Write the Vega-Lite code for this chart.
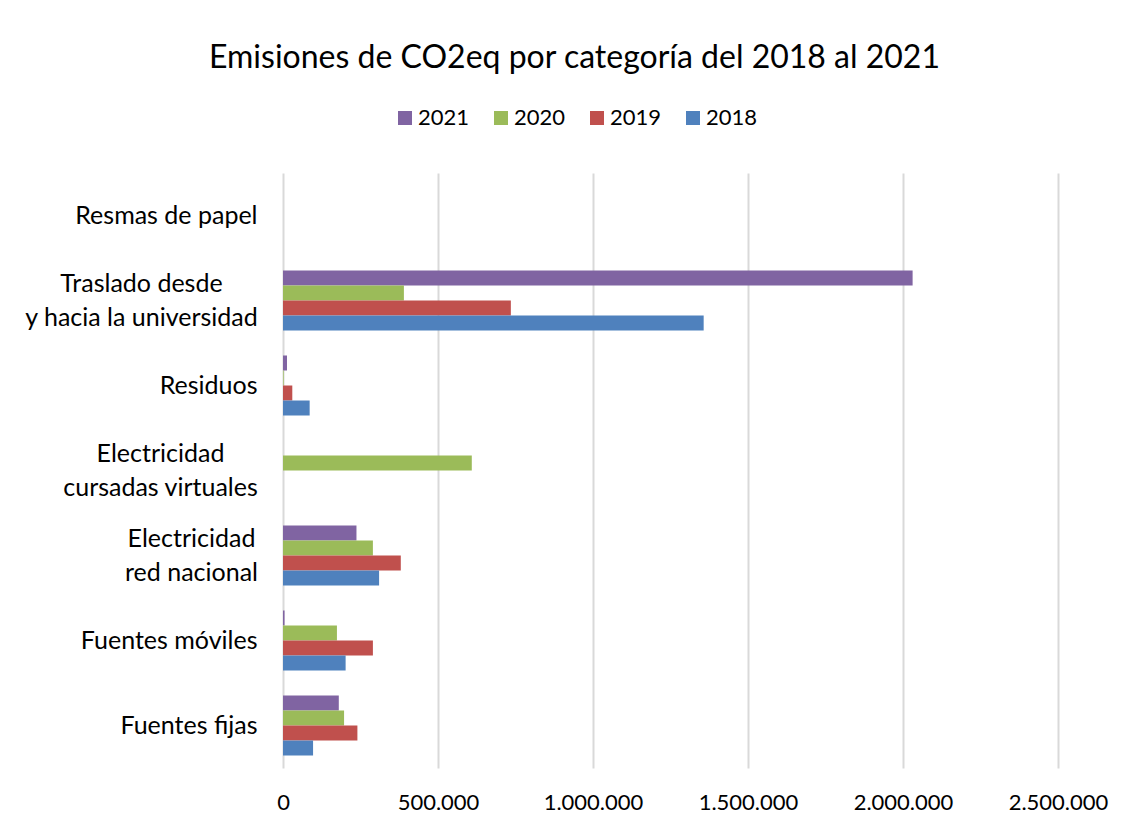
{
  "$schema": "https://vega.github.io/schema/vega-lite/v6.json",
  "autosize": {"type": "none"},
  "padding": {"left": 283, "top": 173, "right": 75, "bottom": 59},
  "width": 775,
  "height": 595,
  "background": "white",
  "config": {
    "font": "Lato",
    "locale": {"number": {"decimal": ",", "thousands": ".", "grouping": [3], "currency": ["", ""]}},
    "view": {"stroke": null}
  },
  "title": {
    "text": "Emisiones de CO2eq por categoría del 2018 al 2021",
    "fontSize": 32,
    "fontWeight": "normal",
    "color": "#000000",
    "anchor": "middle",
    "frame": "group",
    "dx": -96,
    "offset": 32
  },
  "data": {
    "values": [
      {"categoria": "Resmas de papel", "anio": "2021", "valor": 0},
      {"categoria": "Resmas de papel", "anio": "2020", "valor": 0},
      {"categoria": "Resmas de papel", "anio": "2019", "valor": 0},
      {"categoria": "Resmas de papel", "anio": "2018", "valor": 0},
      {"categoria": "Traslado desde|y hacia la universidad", "anio": "2021", "valor": 2031000},
      {"categoria": "Traslado desde|y hacia la universidad", "anio": "2020", "valor": 390000},
      {"categoria": "Traslado desde|y hacia la universidad", "anio": "2019", "valor": 735000},
      {"categoria": "Traslado desde|y hacia la universidad", "anio": "2018", "valor": 1357000},
      {"categoria": "Residuos", "anio": "2021", "valor": 13000},
      {"categoria": "Residuos", "anio": "2020", "valor": 2000},
      {"categoria": "Residuos", "anio": "2019", "valor": 30000},
      {"categoria": "Residuos", "anio": "2018", "valor": 86000},
      {"categoria": "Electricidad|cursadas virtuales", "anio": "2021", "valor": 0},
      {"categoria": "Electricidad|cursadas virtuales", "anio": "2020", "valor": 609000},
      {"categoria": "Electricidad|cursadas virtuales", "anio": "2019", "valor": 0},
      {"categoria": "Electricidad|cursadas virtuales", "anio": "2018", "valor": 0},
      {"categoria": "Electricidad|red nacional", "anio": "2021", "valor": 237000},
      {"categoria": "Electricidad|red nacional", "anio": "2020", "valor": 290000},
      {"categoria": "Electricidad|red nacional", "anio": "2019", "valor": 380000},
      {"categoria": "Electricidad|red nacional", "anio": "2018", "valor": 310000},
      {"categoria": "Fuentes móviles", "anio": "2021", "valor": 5000},
      {"categoria": "Fuentes móviles", "anio": "2020", "valor": 174000},
      {"categoria": "Fuentes móviles", "anio": "2019", "valor": 290000},
      {"categoria": "Fuentes móviles", "anio": "2018", "valor": 202000},
      {"categoria": "Fuentes fijas", "anio": "2021", "valor": 180000},
      {"categoria": "Fuentes fijas", "anio": "2020", "valor": 197000},
      {"categoria": "Fuentes fijas", "anio": "2019", "valor": 240000},
      {"categoria": "Fuentes fijas", "anio": "2018", "valor": 97000}
    ]
  },
  "mark": {"type": "bar"},
  "encoding": {
    "y": {
      "field": "categoria",
      "type": "nominal",
      "sort": null,
      "scale": {
        "domain": ["Resmas de papel", "Traslado desde|y hacia la universidad", "Residuos", "Electricidad|cursadas virtuales", "Electricidad|red nacional", "Fuentes móviles", "Fuentes fijas"],
        "paddingInner": 0.294,
        "paddingOuter": 0.147
      },
      "axis": {
        "title": null,
        "ticks": false,
        "domain": false,
        "labelExpr": "split(datum.value, '|')",
        "labelFontSize": 25,
        "labelColor": "#000000",
        "labelAlign": {"condition": {"test": "indexof(datum.value, '|') >= 0", "value": "center"}, "value": "right"},
        "labelPadding": {
          "condition": [
            {"test": "indexof(datum.value, 'Traslado') >= 0", "value": 142},
            {"test": "indexof(datum.value, 'cursadas') >= 0", "value": 123},
            {"test": "indexof(datum.value, 'red nacional') >= 0", "value": 92}
          ],
          "value": 26
        },
        "labelOffset": {"condition": {"test": "indexof(datum.value, '|') >= 0", "value": -17}, "value": 0},
        "labelLineHeight": 34,
        "labelLimit": 400
      }
    },
    "yOffset": {
      "field": "anio",
      "type": "nominal",
      "sort": ["2021", "2020", "2019", "2018"],
      "scale": {"paddingInner": 0, "paddingOuter": 0}
    },
    "x": {
      "field": "valor",
      "type": "quantitative",
      "scale": {"domain": [0, 2500000], "nice": false},
      "axis": {
        "title": null,
        "values": [0, 500000, 1000000, 1500000, 2000000, 2500000],
        "format": ",d",
        "ticks": false,
        "domain": false,
        "grid": true,
        "gridColor": "#d9d9d9",
        "gridWidth": 2,
        "labelFontSize": 22,
        "labelColor": "#000000",
        "labelPadding": 24,
        "labelFlush": false
      }
    },
    "color": {
      "field": "anio",
      "type": "nominal",
      "scale": {
        "domain": ["2021", "2020", "2019", "2018"],
        "range": ["#8064A2", "#9BBB59", "#C0504D", "#4F81BD"]
      },
      "legend": {
        "title": null,
        "orient": "none",
        "direction": "horizontal",
        "legendX": 111,
        "legendY": -66,
        "symbolType": "square",
        "symbolSize": 196,
        "symbolStrokeWidth": 0,
        "labelFontSize": 22,
        "labelColor": "#000000",
        "columnPadding": 20,
        "labelOffset": 2
      }
    }
  }
}
